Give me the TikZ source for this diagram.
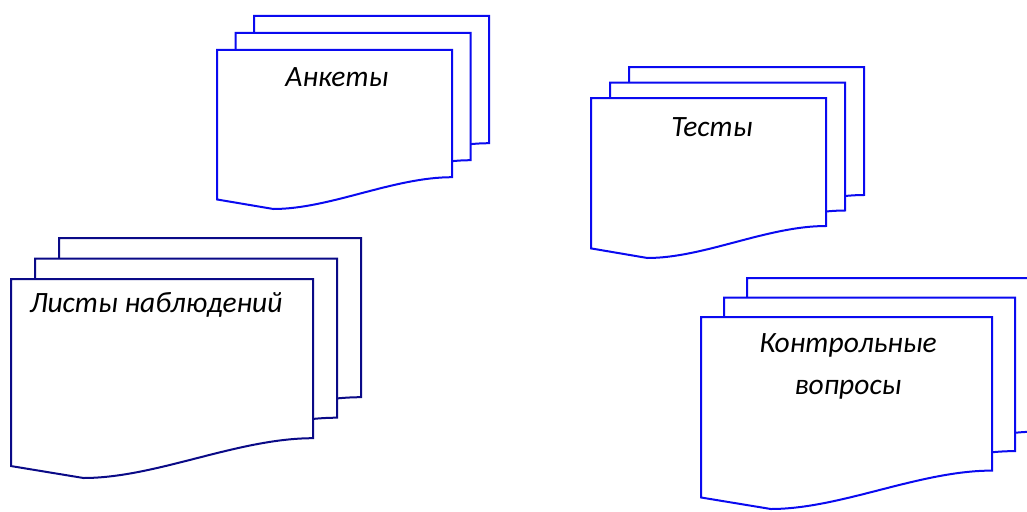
\documentclass[tikz,border=0pt]{standalone}
\usepackage{fontspec}
\setmainfont{Carlito}
\usetikzlibrary{positioning}

% one sheet: style, left, top, width, full height
\newcommand{\docpage}[5]{%
  \begin{scope}[shift={(#2,#3)}, x=#4pt, y=-#5pt]
    \draw[#1] (0,0) -- (1,0) -- (1,0.8) .. controls (0.75,0.8) and (0.48,1) .. (0.24,1) -- (0,0.94) -- cycle;
  \end{scope}}
% three sheets: style, left, top, width, height, dx, dy
\newcommand{\docstack}[7]{%
  \docpage{#1}{#2+2*#6}{#3-2*#7}{#4}{#5}
  \docpage{#1}{#2+#6}{#3-#7}{#4}{#5}
  \docpage{#1}{#2}{#3}{#4}{#5}}

\definecolor{docblue}{RGB}{10,10,240}
\definecolor{docnavy}{RGB}{10,10,135}

\tikzset{
  bluedoc/.style={draw=docblue, line width=2pt, fill=white},
  navydoc/.style={draw=docnavy, line width=2pt, fill=white},
  doclabel/.style={font=\fontsize{29.5}{42}\selectfont\itshape, align=center, inner sep=0pt}
}

\begin{document}
\begin{tikzpicture}[x=1pt, y=-1pt]
  \useasboundingbox (0,0) rectangle (1027,511);
  \clip (0,0) rectangle (1027,511);

  % Анкеты
  \docstack{bluedoc}{217}{50}{235}{159}{18.5}{17}
  \node[doclabel] (ankety) at (337,77) {Анкеты};

  % Тесты
  \docstack{bluedoc}{591}{98}{235}{160}{19}{15.5}
  \node[doclabel] (testy) at (712,127) {Тесты};

  % Листы наблюдений
  \docstack{navydoc}{11}{279}{302}{199}{24}{20.5}
  \node[doclabel] (listy) at (156,305) {Листы наблюдений};

  % Контрольные вопросы
  \docstack{bluedoc}{701}{317}{291}{192}{23}{19.5}
  \node[doclabel] (kontrol) at (848,366) {Контрольные\\вопросы};
\end{tikzpicture}
\end{document}
